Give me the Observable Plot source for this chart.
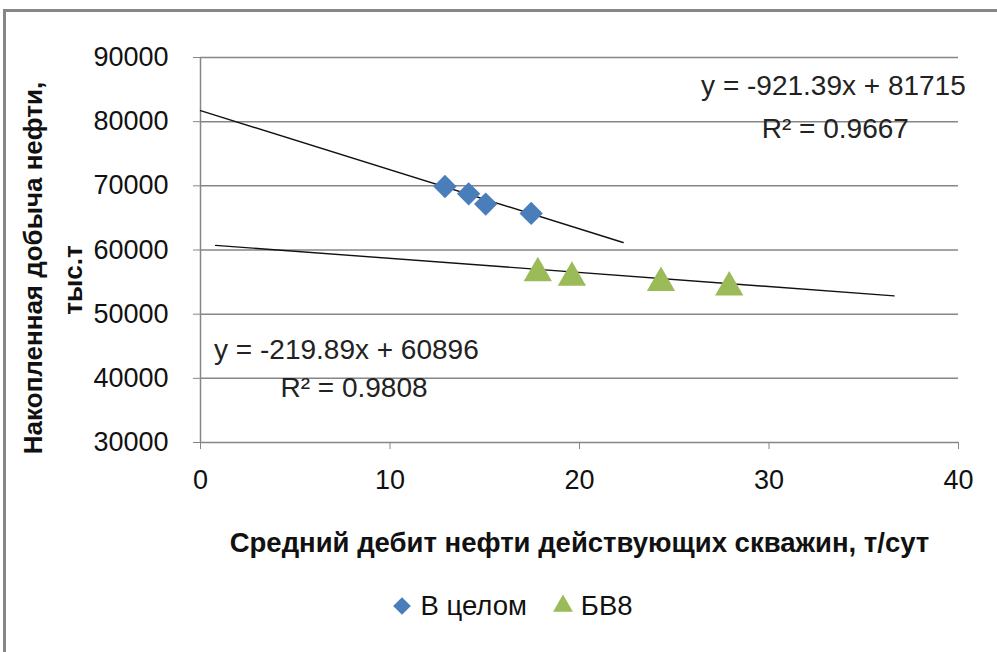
<!DOCTYPE html>
<html><head><meta charset="utf-8">
<script src="https://cdn.jsdelivr.net/npm/d3@7"></script>
<script src="https://cdn.jsdelivr.net/npm/@observablehq/plot@0.6"></script>
<style>
body{margin:0;background:#fff;overflow:hidden;font-family:"Liberation Sans",Arial,sans-serif;}
#wrap{position:relative;width:997px;height:652px;}
#border{position:absolute;left:3px;top:9px;width:1100px;height:800px;border-left:3px solid #868686;border-top:3px solid #868686;}
#legend{position:absolute;top:590px;left:0;width:997px;text-align:center;font-size:27.5px;color:#111;padding-left:26px;box-sizing:border-box;}
#legend span{display:inline-flex;align-items:center;margin:0 12px;}
#legend svg{margin-right:6px;}
#chart{position:absolute;left:0;top:0;}
</style></head>
<body><div id="wrap"><div id="border"></div><div id="chart"></div><div id="legend"></div></div>
<script>
// Series "В целом"
const allX = [12.9, 14.15, 15.05, 17.45];
const allY = [69900, 68750, 67150, 65700];
// Series "БВ8"
const bvX = [17.8, 19.6, 24.3, 27.9];
const bvY = [56400, 55700, 54900, 54200];
// Trendlines (slope, intercept, x extent)
const trendSlope = [-921.39, -219.89];
const trendIntercept = [81715, 60896];
const trendFrom = [0, 0.8];
const trendTo = [22.3, 36.6];
const eqText = ["y = -921.39x + 81715", "y = -219.89x + 60896"];
const r2Text = ["R² = 0.9667", "R² = 0.9808"];
const eqPosX = [33.4, 7.7];
const eqPosY = [85600, 44400];
const r2PosX = [33.5, 8.1];
const r2PosY = [78900, 38450];
const xTicks = [0, 10, 20, 30, 40];
const yTicks = [30000, 40000, 50000, 60000, 70000, 80000, 90000];
const seriesNames = ["В целом", "БВ8"];
const xTitle = "Средний дебит нефти действующих скважин, т/сут";
const yTitle1 = "Накопленная добыча нефти,";
const yTitle2 = "тыс.т";

const blue = "#4A7EBB", green = "#9BBB59";
const allPts = allX.map((x, i) => ({x, y: allY[i]}));
const bvPts = bvX.map((x, i) => ({x, y: bvY[i]}));
const trends = [];
trendSlope.forEach((s, i) => {
  [trendFrom[i], trendTo[i]].forEach(x => trends.push({k: i, x, y: s * x + trendIntercept[i]}));
});
const eqs = eqText.map((t, i) => ({t, x: eqPosX[i], y: eqPosY[i]}));
const r2s = r2Text.map((t, i) => ({t, x: r2PosX[i], y: r2PosY[i]}));

const plot = Plot.plot({
  width: 997, height: 652,
  marginLeft: 200, marginRight: 39, marginTop: 57, marginBottom: 210,
  style: {fontFamily: "'Liberation Sans', Arial, sans-serif", fontSize: "27px", color: "#111", background: "transparent"},
  x: {domain: [0, 40]},
  y: {domain: [30000, 90000]},
  marks: [
    Plot.gridY(yTicks, {stroke: "#868686", strokeOpacity: 1, strokeWidth: 1.5}),
    Plot.ruleX([0], {y1: 30000, y2: 90000, stroke: "#868686", strokeWidth: 1.5}),
    Plot.axisY(yTicks, {tickSize: 7, tickPadding: 25, stroke: "#868686", tickFormat: d => String(d), label: null}),
    Plot.axisX(xTicks, {tickSize: 7, tickPadding: 20, stroke: "#868686", label: null}),
    Plot.line(trends, {x: "x", y: "y", z: "k", stroke: "#111", strokeWidth: 1.4}),
    Plot.dot(allPts, {x: "x", y: "y", symbol: "diamond2", r: 10.5, fill: blue, stroke: "none"}),
    Plot.dot(bvPts, {x: "x", y: "y", symbol: "triangle", r: 10.5, fill: green, stroke: "none"}),
    Plot.text(eqs, {x: "x", y: "y", text: "t", fontSize: 28, fill: "#222"}),
    Plot.text(r2s, {x: "x", y: "y", text: "t", fontSize: 28, fill: "#222"}),
    Plot.text([xTitle], {frameAnchor: "bottom", dy: 109, fontSize: 27.5, fontWeight: "bold", fill: "#111"}),
    Plot.text([yTitle1], {frameAnchor: "left", textAnchor: "middle", rotate: -90, dx: -167, dy: 18, fontSize: 26, fontWeight: "bold", fill: "#111"}),
    Plot.text([yTitle2], {frameAnchor: "left", textAnchor: "middle", rotate: -90, dx: -127, dy: 30, fontSize: 26, fontWeight: "bold", fill: "#111"})
  ]
});
document.getElementById("chart").appendChild(plot);

const leg = document.getElementById("legend");
const syms = [d3.symbolDiamond2, d3.symbolTriangle];
const cols = [blue, green];
seriesNames.forEach((n, i) => {
  const sp = document.createElement("span");
  const path = d3.symbol(syms[i], i === 0 ? 200 : 170)();
  sp.innerHTML = `<svg width="24" height="24" viewBox="-12 -12 24 24"><path d="${path}" fill="${cols[i]}"/></svg>${n}`;
  leg.appendChild(sp);
});
</script></body></html>
